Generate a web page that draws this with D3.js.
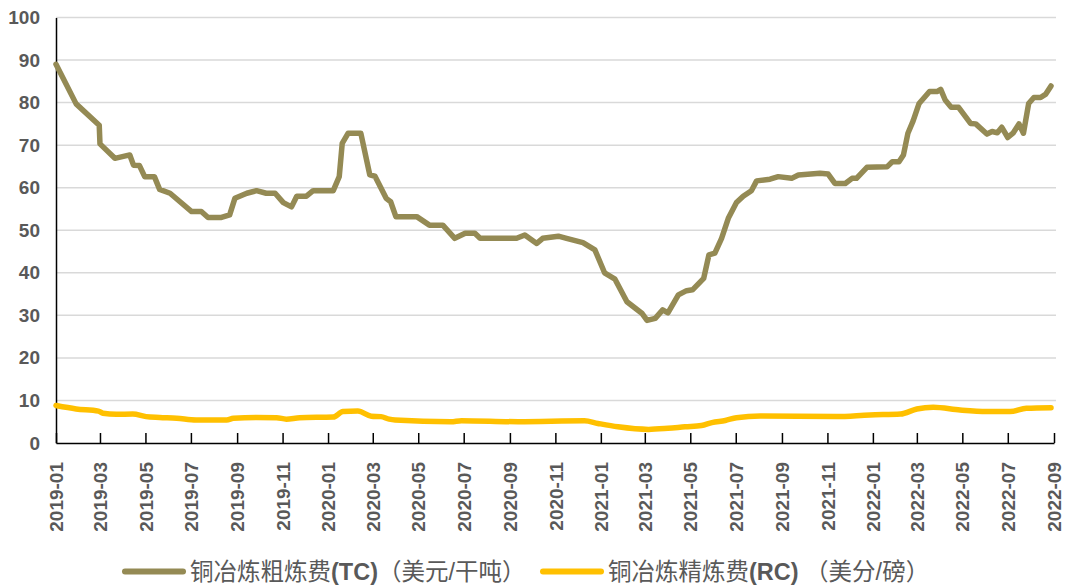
<!DOCTYPE html>
<html>
<head>
<meta charset="utf-8">
<script src="https://cdn.jsdelivr.net/npm/d3@7"></script>
<style>
    body { margin: 0; background: #fff; }
    svg { display: block; }
</style>
</head>
<body>
<svg id="chart" width="1065" height="585"></svg>
<script>
// 铜冶炼粗炼费 TC (美元/干吨)
var tcDates = ["2019-01-01","2019-01-28","2019-02-28","2019-03-01","2019-03-21","2019-04-10","2019-04-15","2019-04-23",
    "2019-04-30","2019-05-13","2019-05-20","2019-06-03","2019-07-02","2019-07-15","2019-07-24","2019-08-11",
    "2019-08-22","2019-08-29","2019-09-14","2019-09-27","2019-10-10","2019-10-22","2019-11-02","2019-11-13",
    "2019-11-20","2019-12-03","2019-12-12","2020-01-08","2020-01-16","2020-01-20","2020-01-28","2020-02-14",
    "2020-02-26","2020-03-04","2020-03-19","2020-03-25","2020-04-01","2020-04-29","2020-05-16","2020-06-03",
    "2020-06-19","2020-07-03","2020-07-16","2020-07-23","2020-09-10","2020-09-21","2020-10-07","2020-10-15",
    "2020-11-05","2020-11-16","2020-12-08","2020-12-24","2021-01-06","2021-01-20","2021-02-05","2021-02-25",
    "2021-03-04","2021-03-15","2021-03-25","2021-04-01","2021-04-15","2021-04-26","2021-05-04","2021-05-19",
    "2021-05-26","2021-06-03","2021-06-12","2021-06-21","2021-07-02","2021-07-11","2021-07-22","2021-07-29",
    "2021-08-16","2021-08-27","2021-09-14","2021-09-23","2021-10-22","2021-11-02","2021-11-11","2021-11-25",
    "2021-12-04","2021-12-10","2021-12-24","2022-01-20","2022-01-27","2022-02-05","2022-02-11","2022-02-17",
    "2022-02-24","2022-03-04","2022-03-18","2022-03-28","2022-04-02","2022-04-08","2022-04-16","2022-04-26",
    "2022-05-12","2022-05-19","2022-06-03","2022-06-10","2022-06-17","2022-06-23","2022-07-01","2022-07-08",
    "2022-07-16","2022-07-22","2022-07-29","2022-08-05","2022-08-14","2022-08-21","2022-08-28"];
var tcValues = [89.0,79.7,74.7,70.3,66.9,67.7,65.3,65.2,
    62.6,62.6,59.6,58.7,54.4,54.4,53.0,53.0,
    53.6,57.5,58.7,59.3,58.7,58.7,56.5,55.5,
    58.0,58.0,59.3,59.3,62.6,70.4,72.8,72.8,
    63.0,62.7,57.5,56.7,53.2,53.2,51.2,51.2,
    48.1,49.3,49.3,48.1,48.1,48.9,46.9,48.1,
    48.6,48.1,47.1,45.4,40.0,38.5,33.2,30.5,
    28.8,29.3,31.3,30.6,34.8,35.8,36.0,38.7,
    44.2,44.6,48.1,52.8,56.5,58.0,59.3,61.6,
    62.0,62.6,62.2,63.0,63.4,63.2,61.0,61.0,
    62.2,62.2,64.8,64.9,66.1,66.1,67.7,72.8,
    75.7,79.8,82.6,82.6,83.1,80.6,78.9,78.9,
    75.1,75.0,72.6,73.2,72.9,74.2,71.8,72.8,
    75.0,72.8,79.8,81.2,81.2,82.0,83.9];

// 铜冶炼精炼费 RC (美分/磅)
var rcDates = ["2019-01-01","2019-01-28","2019-02-27","2019-03-05","2019-03-23","2019-04-14","2019-05-02","2019-05-20",
    "2019-06-12","2019-07-08","2019-08-18","2019-08-27","2019-09-27","2019-10-24","2019-11-06","2019-11-24",
    "2020-01-08","2020-01-21","2020-02-10","2020-02-28","2020-03-12","2020-03-23","2020-03-31","2020-06-14",
    "2020-06-28","2020-09-12","2020-12-10","2020-12-28","2021-01-24","2021-03-06","2021-04-01","2021-04-24",
    "2021-05-16","2021-05-30","2021-06-17","2021-07-02","2021-08-03","2021-11-13","2021-12-28","2022-02-07",
    "2022-03-01","2022-03-23","2022-04-28","2022-06-03","2022-07-04","2022-07-26","2022-08-28"];
var rcValues = [8.8,8.0,7.5,7.0,6.75,6.8,6.2,6.0,
    5.8,5.4,5.4,5.8,6.0,5.95,5.6,5.95,
    6.1,7.4,7.5,6.3,6.2,5.6,5.4,5.0,
    5.25,5.0,5.2,4.6,3.8,3.2,3.45,3.8,
    4.1,4.8,5.3,5.95,6.35,6.2,6.6,6.8,
    8.0,8.4,7.75,7.4,7.4,8.15,8.3];

var yTicks = [0, 10, 20, 30, 40, 50, 60, 70, 80, 90, 100];
var seriesNames = ["铜冶炼粗炼费", "铜冶炼精炼费"];

var parse = d3.timeParse("%Y-%m-%d");
var fmt = d3.timeFormat("%Y-%m");

var svg = d3.select("#chart");
var plotLeft = 56, plotRight = 1054, plotTop = 17.5, plotBottom = 443;
var grey = "#595959";

var x = d3.scaleTime()
    .domain([parse("2019-01-01"), parse("2022-09-01")])
    .range([plotLeft, plotRight]);

var y = d3.scaleLinear()
    .domain([0, 100])
    .range([plotBottom, plotTop]);

// gridlines
svg.append("g")
    .selectAll("line")
    .data(yTicks.filter(function (d) { return d > 0; }))
    .enter()
    .append("line")
    .attr("x1", plotLeft)
    .attr("x2", 1056)
    .attr("y1", function (d) { return y(d); })
    .attr("y2", function (d) { return y(d); })
    .attr("stroke", "#d9d9d9")
    .attr("stroke-width", 1.5);

// y axis
var yAxis = svg.append("g")
    .attr("transform", "translate(" + plotLeft + ",0)")
    .call(d3.axisLeft(y).tickValues(yTicks).tickSize(0).tickPadding(16));
yAxis.select(".domain").attr("stroke", "#000").attr("stroke-width", 1.5);
yAxis.selectAll("text")
    .attr("font-family", "Liberation Sans, Arial, sans-serif")
    .attr("font-size", "19px")
    .attr("font-weight", "bold")
    .attr("fill", grey);

// x axis
var xAxis = svg.append("g")
    .attr("transform", "translate(0," + plotBottom + ")")
    .call(d3.axisBottom(x)
        .ticks(d3.timeMonth.every(2))
        .tickFormat(fmt)
        .tickSizeInner(-10)
        .tickSizeOuter(0));
xAxis.select(".domain").attr("stroke", "#000").attr("stroke-width", 1.5);
xAxis.selectAll(".tick line").attr("stroke", "#000").attr("stroke-width", 1.5);
xAxis.selectAll("text")
    .attr("font-family", "Liberation Sans, Arial, sans-serif")
    .attr("font-size", "19px")
    .attr("font-weight", "bold")
    .attr("fill", grey)
    .attr("text-anchor", "end")
    .attr("transform", "rotate(-90)")
    .attr("x", -19)
    .attr("y", 0)
    .attr("dy", "0.35em");

var line = d3.line()
    .x(function (d) { return x(d.date); })
    .y(function (d) { return y(d.value); });

var tc = tcDates.map(function (d, i) { return { date: parse(d), value: tcValues[i] }; });
var rc = rcDates.map(function (d, i) { return { date: parse(d), value: rcValues[i] }; });

svg.append("path")
    .datum(rc)
    .attr("d", line.curve(d3.curveMonotoneX))
    .attr("fill", "none")
    .attr("stroke", "#ffc000")
    .attr("stroke-width", 5.5)
    .attr("stroke-linejoin", "round")
    .attr("stroke-linecap", "round");

svg.append("path")
    .datum(tc)
    .attr("d", line.curve(d3.curveLinear))
    .attr("fill", "none")
    .attr("stroke", "#948a54")
    .attr("stroke-width", 5.5)
    .attr("stroke-linejoin", "round")
    .attr("stroke-linecap", "round");

// legend
var legend = [
    { x: 125, color: "#948a54", name: seriesNames[0], code: "(TC)", unit: "（美元/干吨）" },
    { x: 543, color: "#ffc000", name: seriesNames[1], code: "(RC)", unit: " （美分/磅）" }
];
var lg = svg.selectAll("g.legend")
    .data(legend)
    .enter()
    .append("g")
    .attr("class", "legend")
    .attr("transform", function (d) { return "translate(" + d.x + ",571.5)"; });

lg.append("line")
    .attr("x1", 0)
    .attr("x2", 58)
    .attr("stroke", function (d) { return d.color; })
    .attr("stroke-width", 6)
    .attr("stroke-linecap", "round");

var lt = lg.append("text")
    .attr("x", 65)
    .attr("dy", "0.36em")
    .attr("font-family", "Liberation Sans, Noto Sans CJK SC, sans-serif")
    .attr("font-size", "23.5px")
    .attr("fill", grey);
lt.append("tspan").text(function (d) { return d.name; });
lt.append("tspan").attr("font-weight", "bold").text(function (d) { return d.code; });
lt.append("tspan").text(function (d) { return d.unit; });
</script>
</body>
</html>
